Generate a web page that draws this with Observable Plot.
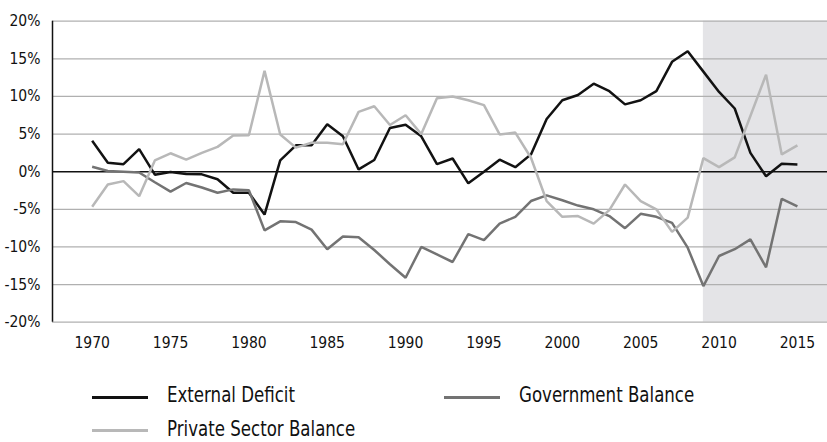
<!DOCTYPE html>
<html>
<head>
<meta charset="utf-8">
<script src="https://cdn.jsdelivr.net/npm/d3@7"></script>
<script src="https://cdn.jsdelivr.net/npm/@observablehq/plot@0.6"></script>
<style>
  html, body { margin: 0; padding: 0; background: #fff; }
  #wrap { position: relative; width: 827px; height: 442px; overflow: hidden; font-family: "DejaVu Sans Condensed", "DejaVu Sans", sans-serif; font-stretch: condensed; }
  .leg { position: absolute; height: 18px; line-height: 18px; font-size: 22px; color: #111; white-space: nowrap; }
  .sw { position: absolute; left: 0; top: 9.6px; height: 3px; width: 56px; }
  .txt { position: absolute; left: 75px; top: 0; display: inline-block; transform: scaleX(0.84); transform-origin: left center; }
</style>
</head>
<body>
<div id="wrap"><div id="chart"></div></div>
<script>
const years = d3.range(1970, 2016);
const externalDeficit = [4.1, 1.2, 1.0, 3.0, -0.4, -0.05, -0.3, -0.35, -1.0, -2.8, -2.8, -5.7, 1.5, 3.5,
  3.5, 6.3, 4.7, 0.3, 1.55, 5.8, 6.25, 4.7, 1.0, 1.75, -1.55, 0.0, 1.6, 0.6, 2.3, 7.0,
  9.5, 10.2, 11.7, 10.7, 8.95, 9.5, 10.7, 14.6, 16.0, 13.3, 10.6, 8.4, 2.5, -0.6, 1.05, 0.95];
const governmentBalance = [0.65, 0.1, 0.0, -0.1, -1.4, -2.65, -1.5, -2.1, -2.8, -2.35, -2.45, -7.8, -6.6, -6.7,
  -7.7, -10.3, -8.6, -8.7, -10.4, -12.3, -14.1, -10.0, -11.0, -12.0, -8.3, -9.1, -6.9, -6.0, -3.9, -3.15,
  -3.8, -4.5, -5.0, -5.9, -7.5, -5.6, -6.0, -6.8, -10.1, -15.2, -11.2, -10.3, -9.0, -12.7, -3.6, -4.6];
const privateSectorBalance = [-4.65, -1.7, -1.25, -3.25, 1.5, 2.45, 1.6, 2.5, 3.3, 4.8, 4.85, 13.4, 4.95, 3.2,
  3.85, 3.85, 3.65, 7.95, 8.7, 6.2, 7.5, 5.0, 9.75, 10.0, 9.5, 8.85, 4.95, 5.2, 1.85, -3.9,
  -6.0, -5.9, -6.9, -5.1, -1.7, -3.9, -5.0, -8.0, -6.1, 1.8, 0.6, 1.9, 7.4, 12.9, 2.3, 3.5];
const seriesNames = ["External Deficit", "Government Balance", "Private Sector Balance"];
const seriesColors = ["#121212", "#737373", "#b8b8b8"];
const yTicks = [-20, -15, -10, -5, 0, 5, 10, 15, 20];
const xTicks = [1970, 1975, 1980, 1985, 1990, 1995, 2000, 2005, 2010, 2015];
const shadeStart = 2009;

const seriesValues = [externalDeficit, governmentBalance, privateSectorBalance];
const rows = seriesNames.flatMap((name, i) =>
  years.map((year, j) => ({series: name, year, value: seriesValues[i][j]})));

const xDomain = [1967.47, 2016.92];

const chart = Plot.plot({
  width: 827,
  height: 370,
  marginLeft: 52,
  marginRight: 0,
  marginTop: 20.7,
  marginBottom: 48.3,
  style: {fontFamily: "'DejaVu Sans Condensed', 'DejaVu Sans', sans-serif", fontSize: "15.5px", color: "#111", background: "transparent"},
  x: {domain: xDomain, label: null},
  y: {domain: [-20, 20], label: null},
  color: {domain: seriesNames, range: seriesColors},
  marks: [
    Plot.rect([{x1: shadeStart, x2: xDomain[1]}], {x1: "x1", x2: "x2", y1: -20, y2: 20, fill: "#e4e4e7"}),
    Plot.ruleY(yTicks.filter(d => d !== 0), {stroke: "#b0b0b0", strokeWidth: 1.2}),
    Plot.ruleY([0], {stroke: "#111", strokeWidth: 1.5}),
    Plot.ruleX([xDomain[0]], {y1: -20, y2: 20, stroke: "#111", strokeWidth: 1.5}),
    Plot.line(rows, {x: "year", y: "value", z: "series", stroke: "series", strokeWidth: 2.5, strokeLinejoin: "miter", strokeLinecap: "butt"}),
    Plot.axisX({ticks: xTicks, tickFormat: d => String(d), tickSize: 0, tickPadding: 14.5, fill: "#111"}),
    Plot.axisY({ticks: yTicks, tickFormat: d => d + "%", tickSize: 0, tickPadding: 12, fill: "#111"})
  ]
});
document.getElementById("chart").appendChild(chart);

// legend
const legendPos = [
  {left: 92, top: 386.4},
  {left: 444, top: 386.4},
  {left: 92, top: 419.5}
];
const wrap = document.getElementById("wrap");
seriesNames.forEach((name, i) => {
  const d = document.createElement("div");
  d.className = "leg";
  d.style.left = legendPos[i].left + "px";
  d.style.top = legendPos[i].top + "px";
  d.style.width = "260px";
  const sw = document.createElement("span");
  sw.className = "sw";
  sw.style.background = seriesColors[i];
  const t = document.createElement("span");
  t.className = "txt";
  t.textContent = name;
  d.appendChild(sw);
  d.appendChild(t);
  wrap.appendChild(d);
});
</script>
</body>
</html>
